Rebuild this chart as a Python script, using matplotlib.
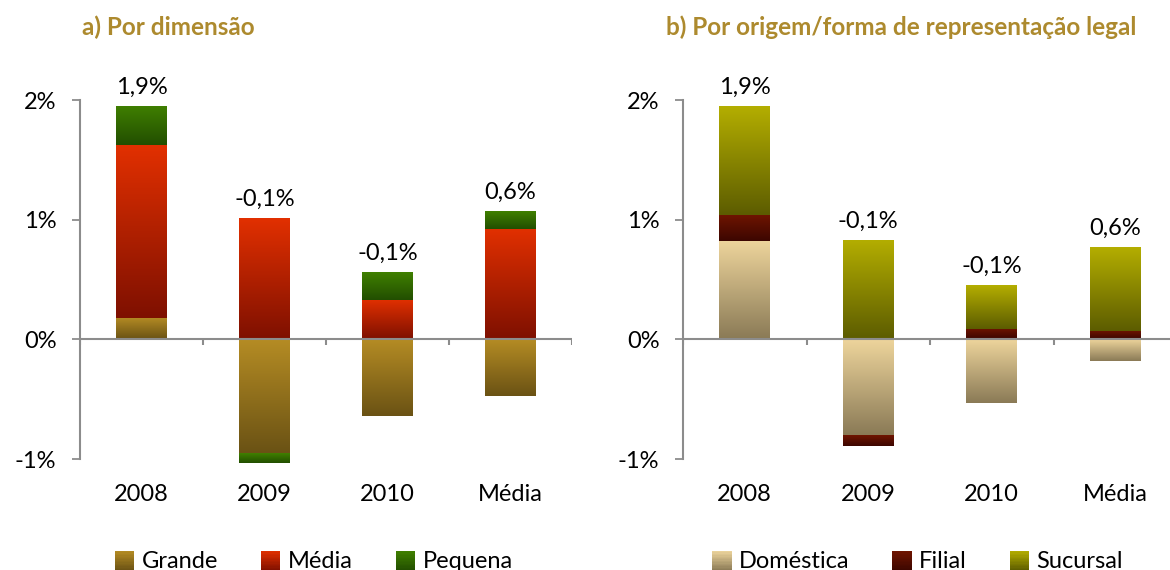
import numpy as np
import matplotlib.pyplot as plt
from matplotlib.colors import LinearSegmentedColormap
from matplotlib.patches import Patch, Rectangle
from matplotlib.legend_handler import HandlerBase

categories = ["2008", "2009", "2010", "Média"]
totals = [1.9, -0.1, -0.1, 0.6]

size_names = ["Grande", "Média", "Pequena"]
grande = [0.18, -0.95, -0.64, -0.47]
media = [1.44, 1.01, 0.33, 0.92]
pequena = [0.33, -0.08, 0.23, 0.15]

origin_names = ["Doméstica", "Filial", "Sucursal"]
domestica = [0.82, -0.80, -0.53, -0.18]
filial = [0.22, -0.09, 0.09, 0.07]
sucursal = [0.91, 0.83, 0.36, 0.70]

# (top, bottom) colours of each gradient
size_colors = [("#B58C24", "#6A5214"), ("#E23000", "#7E1000"), ("#408000", "#224E00")]
origin_colors = [("#EED59C", "#8A7A56"), ("#701500", "#3C0600"), ("#B4AE00", "#5C5C00")]

TITLE_COLOR = "#AD8A2E"
AXIS_GRAY = "#8C8C8C"

plt.rcParams["font.family"] = ["Lato", "DejaVu Sans"]
plt.rcParams["font.size"] = 17


class GradientSquare(HandlerBase):
    """Legend key drawn as a small square with a vertical gradient."""

    def create_artists(self, legend, orig_handle, xdescent, ydescent,
                       width, height, fontsize, trans):
        cmap = orig_handle.cmap
        side = 14
        x0 = -xdescent + (width - side) / 2
        y0 = -ydescent + (height - side) / 2 - 1
        n = 14
        arts = []
        for i in range(n):
            c = cmap(1 - (i + 0.5) / n)
            arts.append(Rectangle((x0, y0 + side * i / n), side, side / n + 0.2,
                                  facecolor=c, edgecolor="none", transform=trans))
        return arts


def draw_panel(ax, series, names, colors):
    x = np.arange(len(categories))
    pos = np.zeros(len(x))
    neg = np.zeros(len(x))
    grad = np.linspace(0, 1, 256).reshape(-1, 1)
    handles = []
    for vals, (top, bot), name in zip(series, colors, names):
        vals = np.array(vals)
        bottoms = np.where(vals >= 0, pos, neg)
        bars = ax.bar(x, vals, width=0.41, bottom=bottoms, color=bot, linewidth=0, zorder=2)
        cmap = LinearSegmentedColormap.from_list("g", [top, bot])
        for bar in bars:
            x0, y0 = bar.get_x(), bar.get_y()
            w, h = bar.get_width(), bar.get_height()
            ylo, yhi = min(y0, y0 + h), max(y0, y0 + h)
            im = ax.imshow(grad, cmap=cmap, aspect="auto", origin="upper",
                           extent=[x0, x0 + w, ylo, yhi], zorder=2.5)
            im.set_clip_path(bar)
        pos += np.where(vals >= 0, vals, 0)
        neg += np.where(vals < 0, vals, 0)
        h = Patch(label=name)
        h.cmap = cmap
        handles.append(h)

    for xi, top, tot in zip(x, pos, totals):
        label = f"{tot:.1f}%".replace(".", ",")
        ax.annotate(label, (xi, top), xytext=(0, 6), textcoords="offset points",
                    ha="center", va="bottom", fontsize=17)

    ax.set_xlim(-0.5, len(x) - 0.5)
    ax.set_ylim(-1, 2)
    ax.set_yticks([-1, 0, 1, 2])
    ax.set_yticklabels(["-1%", "0%", "1%", "2%"])
    ax.set_xticks(x)
    ax.set_xticklabels(categories)
    ax.tick_params(axis="x", length=0, pad=18)
    ax.tick_params(axis="y", length=6, width=1.3, color=AXIS_GRAY, pad=11)
    for s in ["top", "right", "bottom"]:
        ax.spines[s].set_visible(False)
    ax.spines["left"].set_color(AXIS_GRAY)
    ax.spines["left"].set_linewidth(1.5)
    ax.axhline(0, color=AXIS_GRAY, lw=1.5, zorder=3)
    edges = np.arange(len(x) + 1) - 0.5
    ax.vlines(edges, -0.05, 0, color=AXIS_GRAY, lw=1.5, zorder=3)

    ax.legend(handles=handles, handler_map={Patch: GradientSquare()},
              loc="upper center", bbox_to_anchor=(0.476, -0.196),
              ncol=3, frameon=False, handlelength=0.75, handleheight=0.75,
              handletextpad=0.35, columnspacing=1.85, fontsize=17)


fig = plt.figure(figsize=(11.7, 5.7), dpi=100)
ax1 = fig.add_axes([80 / 1170, 111 / 570, 492 / 1170, 359 / 570])
ax2 = fig.add_axes([683 / 1170, 111 / 570, 494 / 1170, 359 / 570])

draw_panel(ax1, [grande, media, pequena], size_names, size_colors)
draw_panel(ax2, [domestica, filial, sucursal], origin_names, origin_colors)

fig.text(82 / 1170, 1 - 27 / 570, "a) Por dimensão", color=TITLE_COLOR,
         fontweight="bold", fontsize=17.5, ha="left", va="center")
fig.text(666 / 1170, 1 - 27 / 570, "b) Por origem/forma de representação legal",
         color=TITLE_COLOR, fontweight="bold", fontsize=17.5, ha="left", va="center")

fig.savefig("out.png", dpi=100)
